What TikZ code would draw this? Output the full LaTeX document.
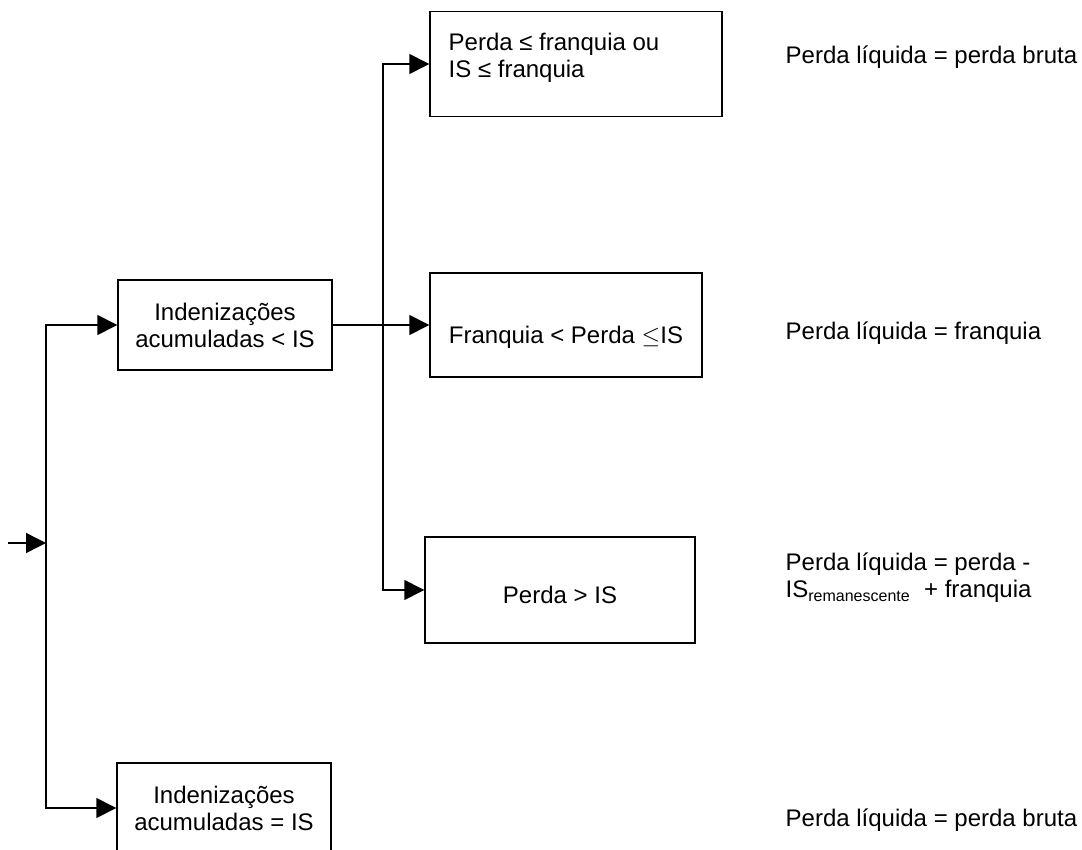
\documentclass[tikz,border=0pt]{standalone}
\usepackage{fontspec}
\setmainfont{Liberation Sans}
\usepackage{tikz}
\usetikzlibrary{arrows.meta}

\begin{document}
\begin{tikzpicture}[
    x=0.5pt, y=-0.5pt,
    >={Triangle[length=10pt, width=10pt]}, line width=0.7pt,
    font=\fontsize{12}{13.5}\selectfont,
    box/.style={rectangle, draw, inner sep=0pt, align=center},
    result/.style={anchor=west, inner sep=0pt, align=left}
]
\useasboundingbox (0,0) rectangle (1082,850);

\node[box, minimum width=107pt, minimum height=45pt] (accless) at (225,325) {Indenizações\\acumuladas < IS};
\node[box, minimum width=107pt, minimum height=45pt] (acceq) at (224,808) {Indenizações\\acumuladas = IS};
\node[box, minimum width=146pt, minimum height=52.5pt] (losslow) at (576,64) {};
\node[anchor=north west, inner sep=0pt, align=left] (losslowtext) at (448,32) {Perda ≤ franquia ou\\IS ≤ franquia};
\node[box, minimum width=136pt, minimum height=52pt, text height=21.6pt, text depth=3pt] (lossmid) at (566,325) {Franquia < Perda $\leq$IS};
\node[box, minimum width=135pt, minimum height=53pt, text height=16.6pt, text depth=3pt] (losshigh) at (560,590) {Perda > IS};

\node[result] (resgross) at (785,57) {Perda líquida = perda bruta};
\node[result] (resdeduct) at (785,333) {Perda líquida = franquia};
\node[result] (resremain) at (785,578) {Perda líquida = perda -\\IS\textsubscript{remanescente}\ \ + franquia};
\node[result] (resfull) at (785,820) {Perda líquida = perda bruta};

\coordinate (start) at (8,543);
\coordinate (trunk) at (46,543);
\coordinate (split) at (383,325);

\draw[->] (start) -- (trunk);
\draw[->] (trunk) |- (accless.west);
\draw[->] (trunk) |- (acceq.west);
\draw[->] (accless) -- (lossmid);
\draw[->] (split) |- (losslow.west);
\draw[->] (split) |- (losshigh.west);

\end{tikzpicture}
\end{document}
